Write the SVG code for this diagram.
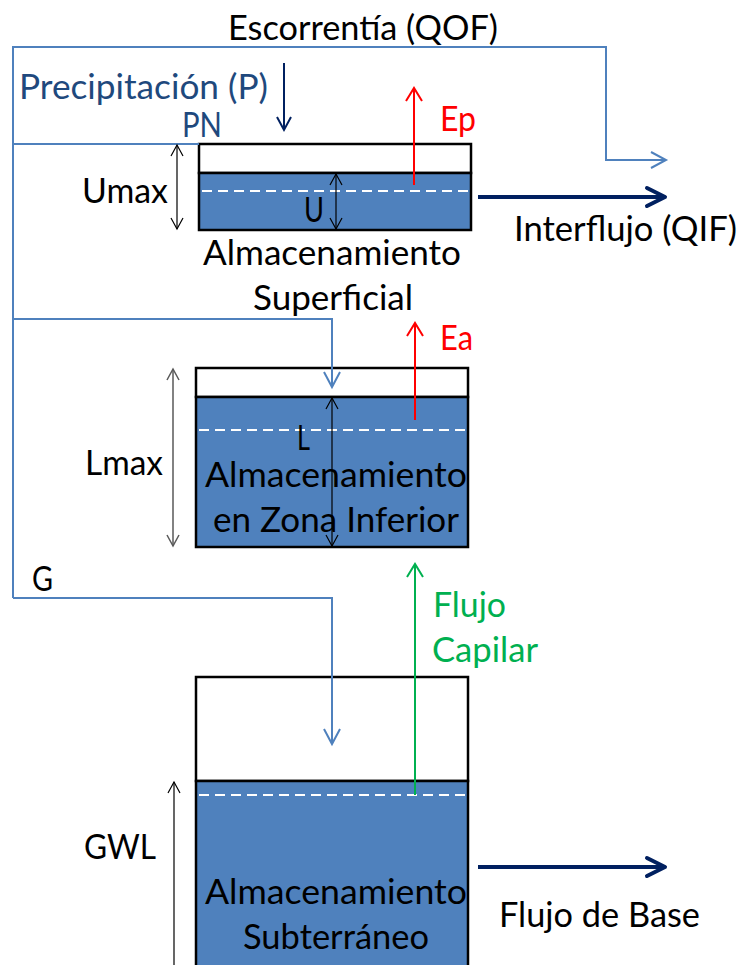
<svg xmlns="http://www.w3.org/2000/svg" width="740" height="965" viewBox="0 0 740 965">
<style>
text{font-family:Lato,"Open Sans","Liberation Sans",sans-serif;font-size:34px;fill:#000}
.pb{fill:#1F497D}
.red{fill:#FF0000}
.grn{fill:#00B050}
.top{fill:#fff;stroke:#000;stroke-width:2.5}
.water{fill:#4F81BD;stroke:#000;stroke-width:2.5}
.dash{stroke:#fff;stroke-width:2;stroke-dasharray:10 6;fill:none}
.flow{fill:none;stroke:#4F81BD;stroke-width:2}
.dim{fill:none;stroke:#000;stroke-width:1.2}
</style>
<defs>
<marker id="mBlk" markerUnits="userSpaceOnUse" markerWidth="20" markerHeight="20" orient="auto-start-reverse" overflow="visible"><path d="M-11,-6 L0,0 L-11,6" fill="none" stroke="#000" stroke-width="1.2"/></marker>
<marker id="mGry" markerUnits="userSpaceOnUse" markerWidth="20" markerHeight="20" orient="auto-start-reverse" overflow="visible"><path d="M-11,-6 L0,0 L-11,6" fill="none" stroke="#595959" stroke-width="1.5"/></marker>
<marker id="mBlue" markerUnits="userSpaceOnUse" markerWidth="20" markerHeight="20" orient="auto" overflow="visible"><path d="M-15,-8 L0,0 L-15,8" fill="none" stroke="#4F81BD" stroke-width="2"/></marker>
<marker id="mNavy" markerUnits="userSpaceOnUse" markerWidth="20" markerHeight="20" orient="auto" overflow="visible"><path d="M-13,-7 L0,0 L-13,7" fill="none" stroke="#002060" stroke-width="2"/></marker>
<marker id="mNavyT" markerUnits="userSpaceOnUse" markerWidth="30" markerHeight="30" orient="auto" overflow="visible"><path d="M-18,-9 L0,0 L-18,9" fill="none" stroke="#002060" stroke-width="4" stroke-linecap="round" stroke-linejoin="round"/></marker>
<marker id="mRed" markerUnits="userSpaceOnUse" markerWidth="20" markerHeight="20" orient="auto" overflow="visible"><path d="M-13,-8 L0,0 L-13,8" fill="none" stroke="#FF0000" stroke-width="2"/></marker>
<marker id="mGrn" markerUnits="userSpaceOnUse" markerWidth="20" markerHeight="20" orient="auto" overflow="visible"><path d="M-13,-8 L0,0 L-13,8" fill="none" stroke="#00B050" stroke-width="2"/></marker>
</defs>
<rect width="740" height="965" fill="#fff"/>

<g id="upper-store">
<rect class="top" x="199" y="144" width="272" height="29"/>
<rect class="water" x="199" y="173" width="272" height="57"/>
<line class="dash" x1="202" y1="191" x2="468" y2="191"/>
<text x="203" y="265" textLength="258" lengthAdjust="spacingAndGlyphs">Almacenamiento</text>
<text x="253" y="310" textLength="160" lengthAdjust="spacingAndGlyphs">Superficial</text>
<text x="304" y="222" textLength="20" lengthAdjust="spacingAndGlyphs">U</text>
<text x="82" y="203" textLength="86" lengthAdjust="spacingAndGlyphs">Umax</text>
</g>

<g id="lower-store">
<rect class="top" x="196" y="368" width="272" height="29"/>
<rect class="water" x="196" y="397" width="272" height="150"/>
<line class="dash" x1="199" y1="430" x2="465" y2="430"/>
<text x="297" y="450" textLength="13" lengthAdjust="spacingAndGlyphs">L</text>
<text x="205" y="487" textLength="262" lengthAdjust="spacingAndGlyphs">Almacenamiento</text>
<text x="213" y="532" textLength="246" lengthAdjust="spacingAndGlyphs">en Zona Inferior</text>
<text x="85" y="475" textLength="78" lengthAdjust="spacingAndGlyphs">Lmax</text>
</g>

<g id="ground-store">
<rect class="top" x="196" y="677" width="272" height="104"/>
<rect class="water" x="196" y="781" width="272" height="200"/>
<line class="dash" x1="199" y1="795" x2="465" y2="795"/>
<text x="205" y="904" textLength="262" lengthAdjust="spacingAndGlyphs">Almacenamiento</text>
<text x="243" y="949" textLength="186" lengthAdjust="spacingAndGlyphs">Subterráneo</text>
<text x="84" y="859" textLength="72" lengthAdjust="spacingAndGlyphs">GWL</text>
</g>

<g id="connectors">
<path class="flow" d="M13,598 L13,47 L606,47 L606,160 L666,160" marker-end="url(#mBlue)"/>
<path class="flow" d="M13,144 L199,144"/>
<path class="flow" d="M13,319 L332,319 L332,387" marker-end="url(#mBlue)"/>
<path class="flow" d="M13,598 L332,598 L332,744" marker-end="url(#mBlue)"/>
<line x1="284" y1="63" x2="284" y2="130" stroke="#002060" stroke-width="2" marker-end="url(#mNavy)"/>
<line x1="478" y1="197" x2="665" y2="197" stroke="#002060" stroke-width="4" marker-end="url(#mNavyT)"/>
<line x1="478" y1="867" x2="665" y2="867" stroke="#002060" stroke-width="4" marker-end="url(#mNavyT)"/>
<line x1="414" y1="185" x2="414" y2="88" stroke="#FF0000" stroke-width="2" marker-end="url(#mRed)"/>
<line x1="415" y1="420" x2="415" y2="323" stroke="#FF0000" stroke-width="2" marker-end="url(#mRed)"/>
<line x1="415" y1="795" x2="415" y2="564" stroke="#00B050" stroke-width="2" marker-end="url(#mGrn)"/>
<line class="dim" x1="177" y1="145" x2="177" y2="229" marker-start="url(#mBlk)" marker-end="url(#mBlk)"/>
<line class="dim" x1="336" y1="174" x2="336" y2="229" marker-start="url(#mBlk)" marker-end="url(#mBlk)"/>
<line x1="173" y1="369" x2="173" y2="546" fill="none" stroke="#595959" stroke-width="1.5" marker-start="url(#mGry)" marker-end="url(#mGry)"/>
<line class="dim" x1="332" y1="398" x2="332" y2="546" marker-start="url(#mBlk)" marker-end="url(#mBlk)"/>
<line class="dim" x1="174" y1="970" x2="174" y2="782" marker-end="url(#mBlk)"/>
</g>

<g id="labels">
<text x="228" y="40" textLength="270" lengthAdjust="spacingAndGlyphs">Escorrentía (QOF)</text>
<text class="pb" x="19" y="99" textLength="249" lengthAdjust="spacingAndGlyphs">Precipitación (P)</text>
<text class="pb" x="182" y="137" textLength="40" lengthAdjust="spacingAndGlyphs">PN</text>
<text class="red" x="440" y="131" textLength="36" lengthAdjust="spacingAndGlyphs">Ep</text>
<text class="red" x="440" y="350" textLength="33" lengthAdjust="spacingAndGlyphs">Ea</text>
<text x="514" y="241" textLength="223" lengthAdjust="spacingAndGlyphs">Interflujo (QIF)</text>
<text x="32" y="591" textLength="21" lengthAdjust="spacingAndGlyphs">G</text>
<text class="grn" x="433" y="617" textLength="73" lengthAdjust="spacingAndGlyphs">Flujo</text>
<text class="grn" x="432" y="662" textLength="106" lengthAdjust="spacingAndGlyphs">Capilar</text>
<text x="499" y="927" textLength="201" lengthAdjust="spacingAndGlyphs">Flujo de Base</text>
</g>
</svg>
